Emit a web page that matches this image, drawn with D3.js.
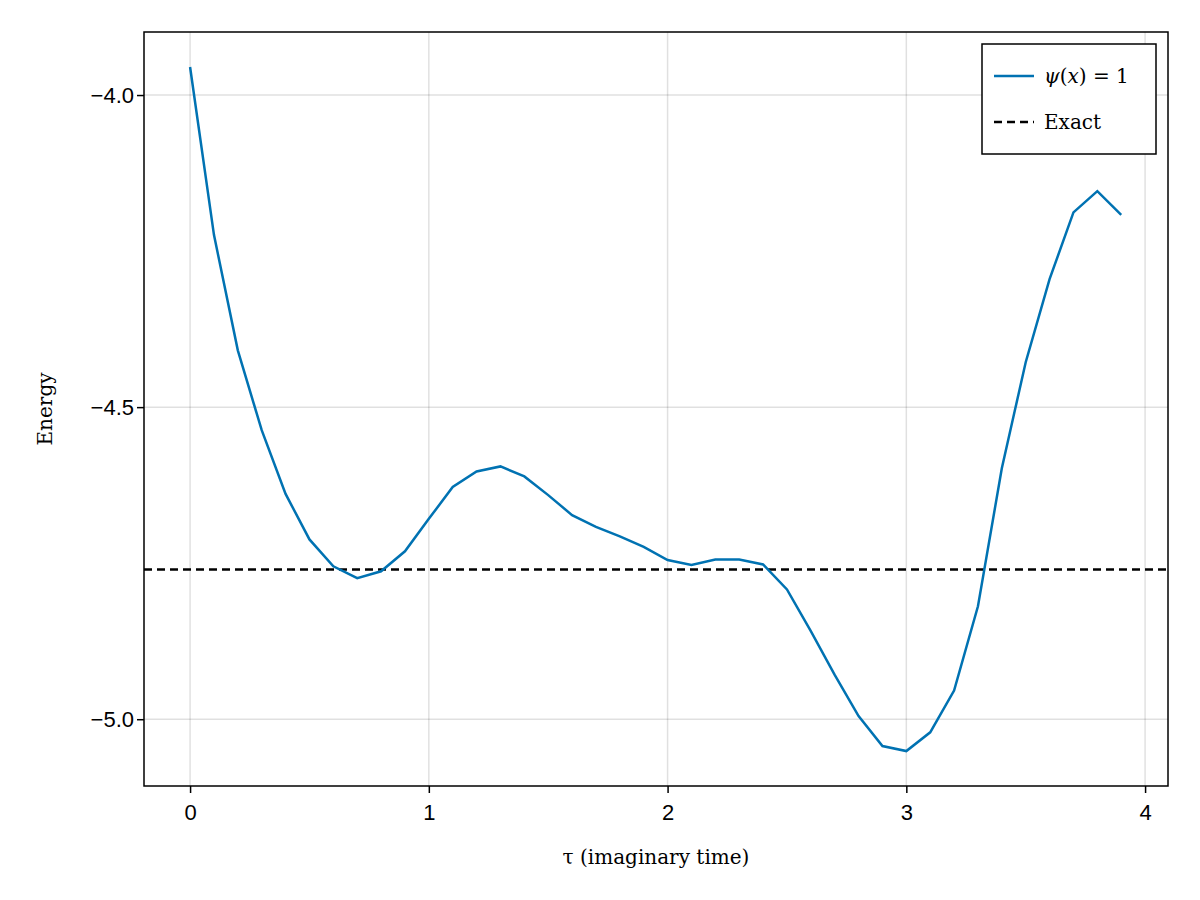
<!DOCTYPE html>
<html><head><meta charset="utf-8">
<script src="https://cdn.jsdelivr.net/npm/d3@7"></script>
<style>body{margin:0;background:#fff}</style></head>
<body><svg id="c" width="1200" height="900"></svg>
<script>
const tau = d3.range(40).map(i => +(i*0.1).toFixed(1));
const energy = [-3.955,-4.224,-4.409,-4.537,-4.639,-4.712,-4.755,-4.774,-4.763,-4.731,
 -4.679,-4.628,-4.603,-4.595,-4.611,-4.641,-4.673,-4.692,-4.707,-4.724,
 -4.745,-4.753,-4.744,-4.744,-4.752,-4.792,-4.859,-4.929,-4.995,-5.043,
 -5.051,-5.021,-4.954,-4.819,-4.598,-4.428,-4.295,-4.188,-4.154,-4.192];
const exact = -4.760;
const xTicks = [0,1,2,3,4];
const yTicks = [-5.0,-4.5,-4.0];

const svg = d3.select("#c");
const L=144,R=1168,T=32,B=786;
const x = d3.scaleLinear().domain([-0.193,4.096]).range([L,R]);
const y = d3.scaleLinear().domain([-5.107,-3.899]).range([B,T]);
const sans="'Liberation Sans',Arial,sans-serif", serif="'DejaVu Serif','Liberation Serif',serif";

const g=svg.append("g");
g.selectAll(".gx").data(xTicks).join("line").attr("x1",d=>x(d)).attr("x2",d=>x(d)).attr("y1",T).attr("y2",B).attr("stroke","#000").attr("stroke-opacity",0.12).attr("stroke-width",1.5);
g.selectAll(".gy").data(yTicks).join("line").attr("y1",d=>y(d)).attr("y2",d=>y(d)).attr("x1",L).attr("x2",R).attr("stroke","#000").attr("stroke-opacity",0.12).attr("stroke-width",1.5);

const xa=svg.append("g").attr("transform",`translate(0,${B})`).call(d3.axisBottom(x).tickValues(xTicks).tickFormat(d3.format("d")).tickSize(7).tickSizeOuter(0));
const ya=svg.append("g").attr("transform",`translate(${L},0)`).call(d3.axisLeft(y).tickValues(yTicks).tickFormat(d=>d3.format(".1f")(d).replace("-","−")).tickSize(7).tickSizeOuter(0));
[xa,ya].forEach(a=>{a.select(".domain").remove();a.selectAll("text").attr("font-family",sans).attr("font-size",22).attr("fill","#000");a.selectAll("line").attr("stroke","#000").attr("stroke-width",1.5);});
xa.selectAll("text").attr("dy","1.1em");

svg.append("line").attr("x1",L).attr("x2",R).attr("y1",y(exact)).attr("y2",y(exact)).attr("stroke","#000").attr("stroke-width",2.5).attr("stroke-dasharray","8,5");
svg.append("path").datum(tau.map((t,i)=>[t,energy[i]])).attr("d",d3.line().x(d=>x(d[0])).y(d=>y(d[1]))).attr("fill","none").attr("stroke","#0072b2").attr("stroke-width",2.5);
svg.append("rect").attr("x",L).attr("y",T).attr("width",R-L).attr("height",B-T).attr("fill","none").attr("stroke","#000").attr("stroke-width",1.5);

svg.append("text").attr("x",656).attr("y",864).attr("text-anchor","middle").attr("font-family",serif).attr("font-size",20).text("τ (imaginary time)").each(function(){});
svg.append("text").attr("transform","translate(52,409) rotate(-90)").attr("text-anchor","middle").attr("font-family",serif).attr("font-size",20).text("Energy");

const lg=svg.append("g");
lg.append("rect").attr("x",982).attr("y",44).attr("width",174).attr("height",110).attr("fill","#fff").attr("stroke","#000").attr("stroke-width",1.5);
lg.append("line").attr("x1",994).attr("x2",1034).attr("y1",76).attr("y2",76).attr("stroke","#0072b2").attr("stroke-width",2.5);
lg.append("line").attr("x1",994).attr("x2",1034).attr("y1",122).attr("y2",122).attr("stroke","#000").attr("stroke-width",2.5).attr("stroke-dasharray","8,5");
lg.append("text").attr("x",1044).attr("y",83).attr("font-family",serif).attr("font-size",20).html("<tspan font-style='italic'>ψ</tspan>(<tspan font-style='italic'>x</tspan>) = 1");
lg.append("text").attr("x",1044).attr("y",129).attr("font-family",serif).attr("font-size",20).text("Exact");
</script></body></html>
